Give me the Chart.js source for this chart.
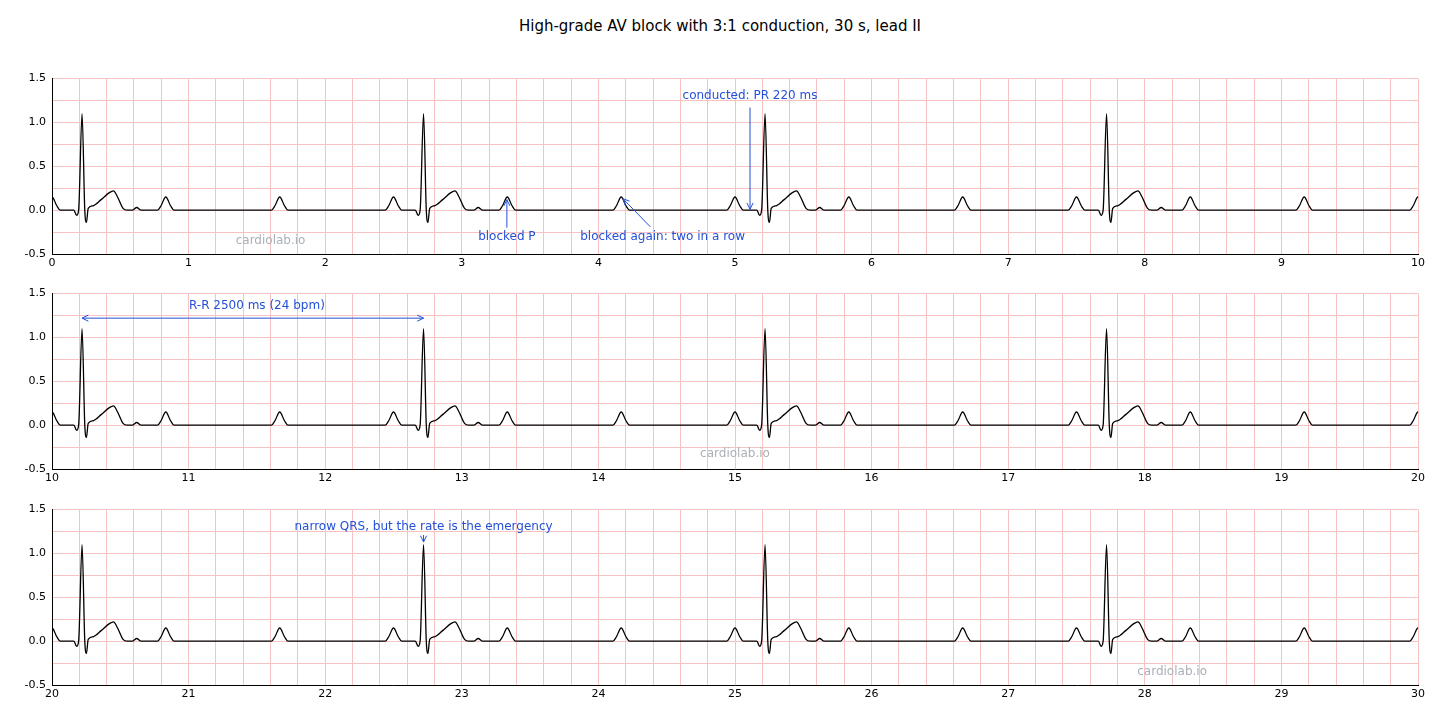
<!DOCTYPE html>
<html>
<head>
<meta charset="utf-8">
<script src="https://cdn.jsdelivr.net/npm/chart.js@4"></script>
<style>
  body { margin: 0; background: #fff; width: 1440px; height: 720px; overflow: hidden; font-family: "DejaVu Sans", sans-serif; }
  #title { position: absolute; top: 17px; width: 1440px; text-align: center; font-size: 15px; color: #000; }
  .panel { position: absolute; left: 0; width: 1440px; height: 212px; }
</style>
</head>
<body>
<div id="title">High-grade AV block with 3:1 conduction, 30 s, lead II</div>
<div class="panel" style="top:66px"><canvas id="c0"></canvas></div>
<div class="panel" style="top:281px"><canvas id="c1"></canvas></div>
<div class="panel" style="top:497px"><canvas id="c2"></canvas></div>
<script>
// P wave peaks every 833 ms, only every third one conducts (PR 220 ms)
var pTimes = [0.0, 0.833, 1.667, 2.5, 3.333, 4.167, 5.0, 5.833, 6.667, 7.5, 8.333, 9.167, 10.0,
  10.833, 11.667, 12.5, 13.333, 14.167, 15.0, 15.833, 16.667, 17.5, 18.333, 19.167, 20.0,
  20.833, 21.667, 22.5, 23.333, 24.167, 25.0, 25.833, 26.667, 27.5, 28.333, 29.167, 30.0];
var rTimes = [0.22, 2.72, 5.22, 7.72, 10.22, 12.72, 15.22, 17.72, 20.22, 22.72, 25.22, 27.72];
// waveform vertices: [offset s, mV]
var pShape = [[-0.06, 0], [-0.035, 0.05], [0, 0.15], [0.035, 0.05], [0.06, 0]];
var qrstShape = [[-0.06, 0], [-0.04, -0.06], [-0.025, 0], [0, 1.1], [0.02, 0], [0.032, -0.14],
  [0.045, 0.02], [0.08, 0.05], [0.14, 0.12], [0.2, 0.2], [0.23, 0.22], [0.26, 0.15], [0.3, 0.02],
  [0.33, 0], [0.37, 0], [0.40, 0.03], [0.43, 0]];
var panelRanges = [[0, 10], [10, 20], [20, 30]];
var watermarks = [[1.6, -0.35], [15.0, -0.33], [28.2, -0.35]];
// [panel, text, textX, textY, fromX, fromY, toX, toY, double]
var notes = [
  [0, 'conducted: PR 220 ms', 5.11, 1.3, 5.11, 1.17, 5.11, 0.01, false],
  [0, 'blocked P', 3.33, -0.3, 3.33, -0.2, 3.33, 0.12, false],
  [0, 'blocked again: two in a row', 4.47, -0.3, 4.38, -0.19, 4.18, 0.13, false],
  [1, 'R-R 2500 ms (24 bpm)', 11.5, 1.36, 10.22, 1.22, 12.72, 1.22, true],
  [2, 'narrow QRS, but the rate is the emergency', 22.72, 1.3, 22.72, 1.21, 22.72, 1.13, false]
];

var pts = [];
pTimes.forEach(function (t) { pShape.forEach(function (v) { pts.push({ x: t + v[0], y: v[1] }); }); });
rTimes.forEach(function (t) { qrstShape.forEach(function (v) { pts.push({ x: t + v[0], y: v[1] }); }); });
pts.sort(function (a, b) { return a.x - b.x; });

var blue = '#2450d8';

function arrowHead(ctx, x0, y0, x1, y1) {
  var a = Math.atan2(y1 - y0, x1 - x0), s = 7;
  ctx.beginPath();
  ctx.moveTo(x1 - s * Math.cos(a - 0.45), y1 - s * Math.sin(a - 0.45));
  ctx.lineTo(x1, y1);
  ctx.lineTo(x1 - s * Math.cos(a + 0.45), y1 - s * Math.sin(a + 0.45));
  ctx.stroke();
}

function notesPlugin(idx) {
  return {
    id: 'notes' + idx,
    afterDatasetsDraw: function (chart) {
      var ctx = chart.ctx, xs = chart.scales.x, ys = chart.scales.y;
      ctx.save();
      ctx.font = '12px "DejaVu Sans"';
      ctx.textAlign = 'center';
      ctx.textBaseline = 'middle';
      ctx.fillStyle = '#aab0b8';
      ctx.fillText('cardiolab.io', xs.getPixelForValue(watermarks[idx][0]), ys.getPixelForValue(watermarks[idx][1]));
      notes.forEach(function (n) {
        if (n[0] !== idx) return;
        var x0 = xs.getPixelForValue(n[4]), y0 = ys.getPixelForValue(n[5]);
        var x1 = xs.getPixelForValue(n[6]), y1 = ys.getPixelForValue(n[7]);
        ctx.strokeStyle = blue; ctx.lineWidth = 1;
        ctx.beginPath(); ctx.moveTo(x0, y0); ctx.lineTo(x1, y1); ctx.stroke();
        arrowHead(ctx, x0, y0, x1, y1);
        if (n[8]) arrowHead(ctx, x1, y1, x0, y0);
        ctx.fillStyle = blue;
        ctx.fillText(n[1], xs.getPixelForValue(n[2]), ys.getPixelForValue(n[3]));
      });
      ctx.restore();
    }
  };
}

panelRanges.forEach(function (r, i) {
  new Chart(document.getElementById('c' + i), {
    type: 'line',
    data: { datasets: [{ data: pts, borderColor: '#000', borderWidth: 1.3, pointRadius: 0,
      cubicInterpolationMode: 'monotone', fill: false }] },
    plugins: [notesPlugin(i)],
    options: {
      responsive: true, maintainAspectRatio: false, animation: false,
      layout: { padding: { top: 8, right: 22, left: 0, bottom: 0 } },
      plugins: { legend: { display: false }, tooltip: { enabled: false } },
      scales: {
        x: {
          type: 'linear', min: r[0], max: r[1],
          afterFit: function (s) { s.height = 24; },
          afterBuildTicks: function (s) {
            var t = []; for (var k = 0; k <= 50; k++) t.push({ value: r[0] + k * 0.2 }); s.ticks = t;
          },
          ticks: { autoSkip: false, maxRotation: 0, color: '#000', font: { size: 11, family: 'DejaVu Sans' },
            callback: function (v) { var q = Math.round(v * 5); return q % 5 === 0 ? String(q / 5) : ''; } },
          grid: { color: '#f6c2c2', lineWidth: 1, drawTicks: false },
          border: { color: '#000', width: 1 }
        },
        y: {
          min: -0.5, max: 1.5,
          afterFit: function (s) { s.width = 52; },
          afterBuildTicks: function (s) {
            var t = []; for (var k = 0; k <= 8; k++) t.push({ value: -0.5 + k * 0.25 }); s.ticks = t;
          },
          ticks: { autoSkip: false, color: '#000', font: { size: 11, family: 'DejaVu Sans' }, padding: 6,
            callback: function (v) { var q = Math.round(v * 4); return q % 2 === 0 ? (q / 4).toFixed(1) : ''; } },
          grid: { color: '#f6c2c2', lineWidth: 1, drawTicks: false },
          border: { color: '#000', width: 1 }
        }
      }
    }
  });
});
</script>
</body>
</html>
